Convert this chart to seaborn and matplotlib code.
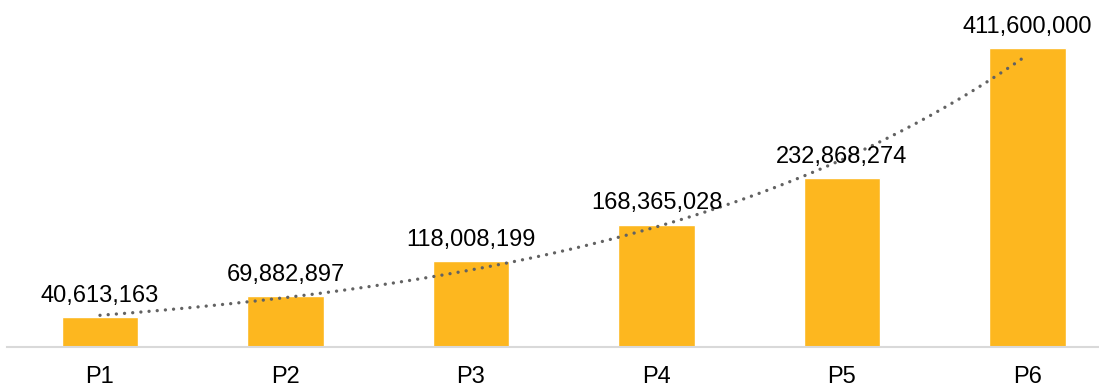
import numpy as np
import matplotlib
matplotlib.use("Agg")
import matplotlib.pyplot as plt
import seaborn as sns

periods = ["P1", "P2", "P3", "P4", "P5", "P6"]
values = [40613163, 69882897, 118008199, 168365028, 232868274, 411600000]

sns.set_style("white")
plt.rcParams["font.family"] = ["Liberation Sans", "DejaVu Sans"]

fig = plt.figure(figsize=(10.99, 3.89), dpi=100)
ax = fig.add_axes([7.25 / 1099, 42 / 389, 1 - 7.25 / 1099, 347 / 389])

sns.barplot(x=periods, y=values, color="#FDB71F", saturation=1, width=0.41, ax=ax)

# exponential trendline fitted to the series
xs = np.arange(len(values))
slope, intercept = np.polyfit(xs, np.log(values), 1)
xt = np.linspace(0, len(values) - 1, 200)
ax.plot(xt, np.exp(intercept + slope * xt), color="#626262", linewidth=2.4,
        linestyle=(0, (0.01, 2.45)), dash_capstyle="round")

for i, v in enumerate(values):
    ax.annotate(f"{v:,}", (i, v), xytext=(0, 11), textcoords="offset points",
                ha="center", va="baseline", fontsize=17, color="#000000")

ax.set_xlim(-0.5, (1099 - 100) / 185.5)
ax.set_ylim(0, 477.7e6)
ax.set_yticks([])
ax.set_xlabel("")
ax.set_ylabel("")
for side in ["top", "right", "left"]:
    ax.spines[side].set_visible(False)
ax.spines["bottom"].set_color("#D9D9D9")
ax.spines["bottom"].set_linewidth(1.5)
ax.tick_params(axis="x", length=0, pad=14, labelsize=17, labelcolor="#000000")

fig.savefig("out.png", dpi=100)
